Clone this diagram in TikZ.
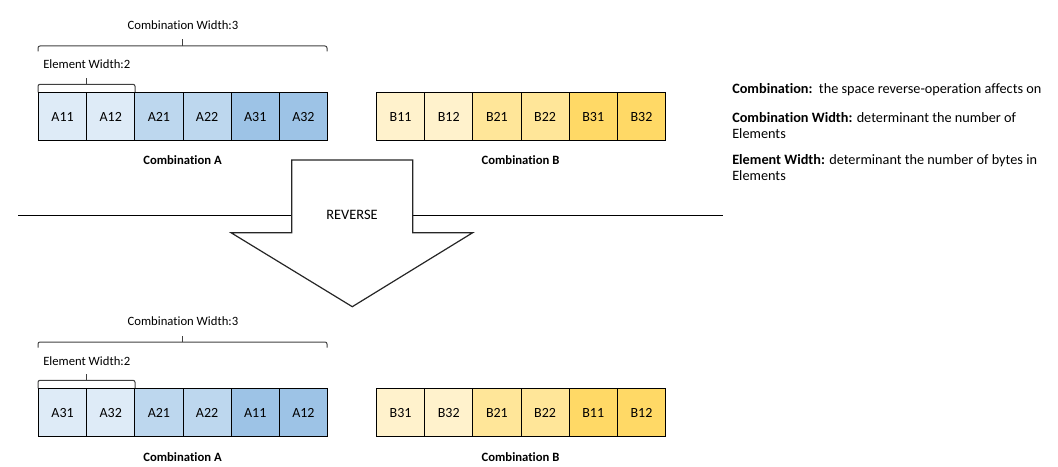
\documentclass[tikz,border=0pt]{standalone}
\usepackage{fontspec}
\setmainfont{Carlito}[Ligatures={NoCommon}]
\definecolor{bl1}{HTML}{DEEBF7}
\definecolor{bl2}{HTML}{BDD7EE}
\definecolor{bl3}{HTML}{9DC3E6}
\definecolor{ye1}{HTML}{FFF2CC}
\definecolor{ye2}{HTML}{FFE699}
\definecolor{ye3}{HTML}{FFD966}
\begin{document}
\begin{tikzpicture}[x=0.75pt,y=-0.75pt,
  cell/.style={draw=black, line width=0.75pt, minimum width=36.13pt, minimum height=36pt,
    inner sep=0pt, anchor=north west, font=\fontsize{10.5}{11}\selectfont},
  lbl/.style={inner sep=0pt, font=\fontsize{9.5}{11}\selectfont},
  combcaption/.style={inner sep=0pt, font=\fontsize{9.5}{11}\selectfont\bfseries},
  brk/.style={draw=black!75, line width=0.75pt, rounded corners=1.5pt},
  legend/.style={inner sep=0pt, anchor=west, align=left, font=\fontsize{10.7}{12}\selectfont},
  arrowshape/.style={draw=black!85, line width=0.9pt, fill=white, line join=miter},
  divider/.style={draw=black, line width=0.9pt}]
\useasboundingbox (0,0) rectangle (1058,467);

% divider line
\coordinate (dl) at (18,215.5);
\coordinate (dr) at (723,215.5);
\draw[divider] (dl) -- (dr);

% reverse arrow
\draw[arrowshape] (291.7,160) -- (412.7,160) -- (412.7,232.7) -- (472.7,232.7)
  -- (352.3,306.7) -- (231,232.7) -- (291.7,232.7) -- cycle;
\node[lbl, font=\fontsize{10.8}{12}\selectfont] (rev) at (352,215) {REVERSE};

% ---------- top ----------
\node[lbl] (tcw) at (183,25) {Combination Width:3};
\draw[brk] (38,51.5) -- (38,46) -- (327,46) -- (327,51.5);
\draw[brk] (182.7,46) -- (182.7,39.5);
\node[lbl, anchor=west] (tew) at (43,64) {Element Width:2};
\draw[brk] (38,92.3) -- (38,84.3) -- (135,84.3) -- (135,92.3);
\draw[brk] (86.8,84.3) -- (86.8,78.3);
\foreach \t/\c [count=\i] in {A11/bl1,A12/bl1,A21/bl2,A22/bl2,A31/bl3,A32/bl3}
  \node[cell, fill=\c] (ta\i) at ({38+(\i-1)*48.17},92.3) {\t};
\foreach \t/\c [count=\i] in {B11/ye1,B12/ye1,B21/ye2,B22/ye2,B31/ye3,B32/ye3}
  \node[cell, fill=\c] (tb\i) at ({376+(\i-1)*48.17},92.3) {\t};
\node[combcaption] (tca) at (182.5,160) {Combination A};
\node[combcaption] (tcb) at (520.5,160) {Combination B};

% ---------- bottom ----------
\begin{scope}[shift={(0,296)}]
\node[lbl] (bcw) at (183,25) {Combination Width:3};
\draw[brk] (38,51.5) -- (38,46) -- (327,46) -- (327,51.5);
\draw[brk] (182.7,46) -- (182.7,39.5);
\node[lbl, anchor=west] (bew) at (43,65) {Element Width:2};
\draw[brk] (38,92.3) -- (38,84.3) -- (135,84.3) -- (135,92.3);
\draw[brk] (86.8,84.3) -- (86.8,78.3);
\foreach \t/\c [count=\i] in {A31/bl1,A32/bl1,A21/bl2,A22/bl2,A11/bl3,A12/bl3}
  \node[cell, fill=\c] (ba\i) at ({38+(\i-1)*48.17},92.3) {\t};
\foreach \t/\c [count=\i] in {B31/ye1,B32/ye1,B21/ye2,B22/ye2,B11/ye3,B12/ye3}
  \node[cell, fill=\c] (bb\i) at ({376+(\i-1)*48.17},92.3) {\t};
\node[combcaption] (bca) at (182.5,160.7) {Combination A};
\node[combcaption] (bcb) at (520.5,160.7) {Combination B};
\end{scope}

% ---------- legend ----------
\node[legend] (l1) at (732,90) {\textbf{Combination:}\ \ the space reverse-operation affects on};
\node[legend] (l2) at (732,125.3) {\textbf{Combination Width:} determinant the number of\\Elements};
\node[legend] (l3) at (732,168) {\textbf{Element Width:} determinant the number of bytes in\\Elements};
\end{tikzpicture}
\end{document}
